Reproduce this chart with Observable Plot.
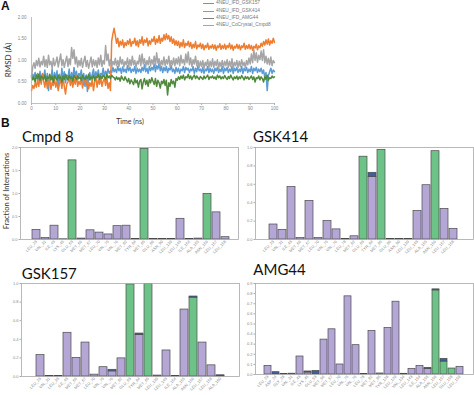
<!DOCTYPE html>
<html><head><meta charset="utf-8">
<script src="https://cdn.jsdelivr.net/npm/d3@7"></script>
<script src="https://cdn.jsdelivr.net/npm/@observablehq/plot@0.6"></script>
<style>
body{margin:0;background:#fff;}
#root{position:relative;width:474px;height:395px;overflow:hidden;background:#fff;}
.abs{position:absolute;white-space:nowrap;line-height:1;}
.panel{position:absolute;}
.lab{font-family:Lato,"Liberation Sans",sans-serif;color:#333;}
.rot{transform:translate(-50%,-50%) rotate(-90deg);}
.leg{font-family:"Liberation Sans",sans-serif;font-size:4.8px;color:#777;}
.sw{position:absolute;height:0;border-top:1.4px solid;}
</style></head><body><div id="root"></div>
<script>
// ---------- Panel A: RMSD time series (0.5 ns sampling) ----------
const timeStep = 0.5;
const seriesNames = ["4NEU_IFD_GSK157","4NEU_IFD_GSK414","4NEU_IFD_AMG44","4NEU_CoCrystal_Cmpd8"];
const legendColors = ["#5b9bd5","#ed7d31","#7f7f7f","#a5a5a5"];
const rmsdGSK157 = [
0.60,0.68,0.62,0.72,0.58,0.70,0.55,0.75,0.50,0.68,
0.60,0.78,0.45,0.70,0.30,0.65,0.55,0.80,0.48,0.72,
0.58,0.76,0.35,0.68,0.50,0.82,0.56,0.74,0.48,0.66,
0.60,0.80,0.52,0.72,0.58,0.84,0.62,0.75,0.55,0.70,
0.64,0.78,0.50,0.70,0.40,0.66,0.28,0.60,0.72,0.55,
0.68,0.80,0.58,0.74,0.62,0.78,0.55,0.70,0.66,0.82,
0.62,0.75,0.68,0.80,0.70,0.76,0.72,0.84,0.74,0.80,
0.72,0.86,0.76,0.82,0.70,0.85,0.74,0.80,0.72,0.88,
0.76,0.84,0.72,0.80,0.75,0.86,0.70,0.82,0.74,0.80,
0.72,0.84,0.76,0.90,0.74,0.82,0.70,0.86,0.76,0.84,
0.78,0.92,0.74,0.88,0.80,0.94,0.76,0.86,0.72,0.84,
0.76,0.86,0.72,0.82,0.78,0.88,0.74,0.80,0.70,0.84,
0.74,0.82,0.70,0.80,0.76,0.86,0.72,0.84,0.78,0.82,
0.72,0.80,0.76,0.86,0.70,0.82,0.74,0.88,0.76,0.80,
0.72,0.84,0.70,0.80,0.76,0.86,0.72,0.82,0.74,0.80,
0.70,0.82,0.76,0.84,0.72,0.80,0.74,0.86,0.70,0.82,
0.76,0.84,0.72,0.80,0.74,0.86,0.70,0.82,0.76,0.84,
0.72,0.80,0.74,0.86,0.70,0.82,0.76,0.84,0.72,0.80,
0.74,0.86,0.70,0.82,0.76,0.84,0.72,0.80,0.74,0.82,
0.70,0.78,0.60,0.72,0.30,0.65,0.74,0.82,0.70,0.78,
0.74];
const rmsdGSK414 = [
0.30,0.42,0.35,0.48,0.38,0.55,0.40,0.62,0.45,0.70,
0.52,0.38,0.60,0.35,0.48,0.58,0.33,0.50,0.42,0.56,
0.38,0.52,0.30,0.46,0.55,0.35,0.60,0.40,0.22,0.45,
0.50,0.62,0.42,0.55,0.38,0.58,0.45,0.65,0.40,0.52,
0.44,0.58,0.36,0.50,0.60,0.42,0.55,0.34,0.48,0.40,
0.56,0.30,0.50,0.62,0.38,0.55,0.45,0.60,0.40,0.52,
0.58,0.42,0.62,0.35,0.48,0.30,1.45,1.62,1.75,1.58,
1.40,1.52,1.32,1.45,1.36,1.48,1.30,1.42,1.35,1.46,
1.38,1.50,1.33,1.44,1.40,1.52,1.35,1.46,1.32,1.48,
1.40,1.55,1.36,1.48,1.42,1.52,1.34,1.46,1.38,1.50,
1.44,1.56,1.38,1.50,1.42,1.58,1.40,1.52,1.45,1.60,
1.48,1.62,1.50,1.58,1.44,1.55,1.40,1.50,1.36,1.46,
1.35,1.45,1.30,1.42,1.33,1.48,1.30,1.40,1.35,1.45,
1.32,1.42,1.28,1.38,1.30,1.44,1.27,1.36,1.32,1.40,
1.28,1.38,1.25,1.35,1.30,1.40,1.26,1.34,1.29,1.37,
1.27,1.36,1.24,1.34,1.30,1.39,1.26,1.35,1.28,1.38,
1.26,1.35,1.30,1.40,1.27,1.36,1.24,1.33,1.29,1.38,
1.28,1.36,1.25,1.34,1.30,1.40,1.26,1.35,1.28,1.37,
1.27,1.35,1.24,1.33,1.29,1.38,1.25,1.34,1.30,1.40,
1.33,1.44,1.36,1.48,1.38,1.50,1.36,1.46,1.40,1.52,
1.42];
const rmsdAMG44 = [
0.65,0.55,0.62,0.50,0.66,0.58,0.68,0.54,0.64,0.60,
0.56,0.66,0.52,0.62,0.58,0.68,0.55,0.63,0.50,0.65,
0.60,0.54,0.66,0.58,0.62,0.50,0.64,0.56,0.68,0.60,
0.55,0.65,0.58,0.62,0.52,0.66,0.60,0.56,0.64,0.58,
0.62,0.54,0.66,0.60,0.56,0.64,0.58,0.68,0.55,0.62,
0.58,0.66,0.54,0.62,0.60,0.68,0.56,0.64,0.58,0.66,
0.62,0.56,0.68,0.60,0.64,0.58,0.66,0.62,0.60,0.55,
0.62,0.56,0.60,0.52,0.64,0.58,0.54,0.62,0.56,0.50,
0.58,0.46,0.55,0.50,0.44,0.58,0.48,0.54,0.38,0.52,
0.56,0.34,0.50,0.58,0.44,0.54,0.40,0.56,0.48,0.60,
0.52,0.44,0.58,0.40,0.54,0.48,0.36,0.52,0.46,0.56,
0.42,0.54,0.20,0.48,0.40,0.56,0.46,0.52,0.38,0.58,
0.54,0.62,0.56,0.64,0.58,0.66,0.55,0.62,0.60,0.68,
0.58,0.64,0.56,0.62,0.66,0.58,0.64,0.60,0.56,0.63,
0.60,0.56,0.64,0.58,0.62,0.66,0.56,0.62,0.60,0.64,
0.58,0.62,0.56,0.66,0.60,0.64,0.57,0.62,0.58,0.65,
0.60,0.56,0.63,0.58,0.66,0.60,0.55,0.62,0.58,0.64,
0.56,0.62,0.58,0.65,0.60,0.55,0.63,0.58,0.62,0.56,
0.60,0.64,0.56,0.62,0.50,0.60,0.58,0.64,0.55,0.62,
0.58,0.50,0.62,0.56,0.66,0.54,0.60,0.58,0.64,0.60,
0.62];
const rmsdCmpd8 = [
0.62,0.85,0.95,0.82,1.00,0.88,1.05,0.85,0.98,0.90,
1.10,0.86,1.02,0.84,1.12,0.90,0.98,0.82,1.05,0.88,
0.96,1.08,0.85,1.00,1.15,0.88,1.02,0.84,0.98,1.10,
0.86,1.04,0.90,1.30,1.05,1.25,0.92,1.08,0.85,1.00,
0.88,1.05,0.84,0.98,1.10,0.86,1.00,0.82,0.95,1.08,
0.85,1.02,0.88,1.00,0.84,1.06,0.90,1.12,0.86,1.00,
0.92,1.35,1.00,1.15,0.88,1.02,0.86,0.98,0.90,1.05,
0.88,1.00,0.86,1.08,0.92,1.02,0.85,0.98,0.90,1.06,
0.86,1.02,0.88,1.10,0.90,1.00,0.84,0.98,0.92,1.12,
0.88,1.15,0.92,1.04,0.86,1.00,0.90,1.08,0.88,1.02,
0.92,1.10,0.88,1.18,0.94,1.04,0.86,1.00,0.90,1.08,
0.88,1.02,0.92,1.10,0.86,1.00,0.90,1.06,0.88,1.04,
0.92,1.08,0.88,1.12,0.94,1.02,0.90,1.15,0.95,1.20,
0.90,1.06,0.86,1.02,0.92,1.10,0.88,1.00,0.84,0.98,
0.86,1.00,0.82,0.96,0.88,1.02,0.84,0.98,0.86,1.04,
0.84,0.98,0.88,1.02,0.82,0.96,0.86,1.00,0.84,0.98,
0.88,1.02,0.84,0.98,0.86,1.04,0.82,0.96,0.88,1.00,
0.84,0.98,0.86,1.02,0.88,0.96,0.84,1.00,0.90,1.06,
0.92,1.15,0.95,1.25,1.00,1.18,0.96,1.12,1.02,1.22,
1.00,1.25,0.95,1.10,0.92,1.05,0.90,1.08,0.88,1.00,
0.95];
const rmsdTicksY = [0, 0.5, 1, 1.5, 2];
const rmsdTicksX = [0,10,20,30,40,50,60,70,80,90,100];

// drawing order and line colours as in the figure
const lineSeries = [
  {values: rmsdGSK157, color: "#5b9bd5"},
  {values: rmsdGSK414, color: "#ed7d31"},
  {values: rmsdAMG44,  color: "#4f8a3c"},
  {values: rmsdCmpd8,  color: "#a5a5a5"}
];

// ---------- Panel B: interaction fractions ----------
const types = ["H-bonds","Hydrophobic","Water bridges"];
const typeColors = ["#6dc387","#b4a7d6","#3f5f9f"];

const cmpd8Res = ["LEU_23","VAL_31","ILE_43","LYS_45","GLU_63","MET_66","MET_67","LEU_70","VAL_75","VAL_76","MET_82","TYR_84","MET_85","GLU_86","ASN_90","LEU_139","LEU_143","ILE_154","ALA_155","ASN_156","LEU_157","LEU_158"];
const cmpd8HB  = [0,0,0,0,1.72,0,0,0,0,0,0,0,1.97,0,0,0,0,0,0,0.99,0,0];
const cmpd8HY  = [0.21,0.03,0.30,0.005,0,0.02,0.20,0.15,0.11,0.29,0.30,0.01,0,0.01,0.01,0.01,0.45,0.01,0.02,0,0.59,0.05];
const cmpd8WB  = [0,0,0,0,0,0,0,0,0,0,0,0,0,0,0,0,0,0,0,0,0,0];

const gsk414Res = ["LEU_23","VAL_31","ILE_43","MET_66","MET_67","LEU_70","VAL_75","VAL_76","LEU_78","MET_82","GLU_83","TYR_84","MET_85","GLU_86","ASN_90","LEU_139","LEU_143","ALA_155","ASN_156","LEU_157","LEU_158"];
const gsk414HB = [0,0,0,0,0,0,0,0,0,0,0.90,0,0.975,0,0,0,0,0,0.96,0,0];
const gsk414HY = [0.163,0.105,0.57,0.015,0.42,0.015,0.20,0.11,0.005,0.035,0,0.68,0,0.005,0.005,0.005,0.31,0.59,0,0.333,0.116];
const gsk414WB = [0,0,0,0,0,0,0,0,0,0,0,0.045,0,0,0,0,0,0,0,0,0];

const gsk157Res = ["LEU_23","VAL_31","LEU_33","ILE_43","MET_66","MET_67","LEU_70","VAL_75","VAL_76","MET_82","GLU_83","TYR_84","MET_85","LEU_139","LEU_143","ILE_154","ALA_155","ASN_156","LEU_157","LEU_158","ALA_160"];
const gsk157HB = [0,0,0,0,0,0,0,0,0,0,0.99,0,0.995,0,0,0,0,0.848,0,0,0];
const gsk157HY = [0.23,0.005,0.005,0.47,0.20,0.365,0.02,0.10,0.055,0.195,0,0.445,0,0.01,0.28,0.005,0.72,0,0.365,0.12,0.005];
const gsk157WB = [0,0,0,0,0,0,0,0,0.017,0,0,0.017,0,0,0,0,0,0.012,0,0,0.008];

const amg44Res = ["LEU_23","ASP_24","GLY_28","VAL_31","ILE_43","LYS_45","GLU_63","MET_66","MET_67","LEU_70","VAL_75","VAL_76","LEU_78","MET_82","MET_85","TYR_128","LEU_129","VAL_134","LEU_143","ILE_154","ALA_155","ASN_156","LEU_157","GLU_158","LEU_159"];
const amg44HB = [0,0,0,0,0,0,0,0,0,0,0,0,0,0,0,0,0,0,0,0,0,0.832,0.128,0.059,0];
const amg44HY = [0.085,0,0.004,0.008,0.178,0.02,0,0.345,0.447,0.099,0.773,0.29,0.004,0.43,0.01,0.46,0.72,0.007,0.056,0.085,0.056,0,0,0,0.076];
const amg44WB = [0,0.023,0,0,0,0.01,0.036,0,0,0,0,0,0,0,0,0,0,0,0,0,0.01,0.01,0.027,0,0];

const root = document.getElementById("root");
function place(node, left, top, w) {
  const d = document.createElement("div");
  d.className = "panel";
  d.style.left = left + "px"; d.style.top = top + "px"; d.style.width = w + "px";
  d.appendChild(node); root.appendChild(d);
}
function label(text, left, top, css, cls) {
  const d = document.createElement("div");
  d.className = "abs " + (cls || "lab");
  d.textContent = text;
  d.style.left = left + "px"; d.style.top = top + "px";
  Object.assign(d.style, css || {});
  root.appendChild(d);
  return d;
}

// Panel A chart
const lineRows = [];
lineSeries.forEach((s, k) => s.values.forEach((v, i) => lineRows.push({t: i * timeStep, v, k})));
const rmsdPlot = Plot.plot({
  width: 280, height: 112,
  marginLeft: 31, marginRight: 6, marginTop: 17, marginBottom: 9,
  style: {background: "transparent", fontFamily: "Liberation Sans, sans-serif", fontSize: "4.5px", color: "#888"},
  x: {domain: [0, 100]},
  y: {domain: [0, 2]},
  marks: [
    ...lineSeries.map((s, k) => Plot.line(lineRows.filter(r => r.k === k), {x: "t", y: "v", stroke: s.color, strokeWidth: 1.5})),
    Plot.ruleY([0], {stroke: "#b0b0b0", strokeWidth: 0.8}),
    Plot.ruleX([0], {stroke: "#b0b0b0", strokeWidth: 0.8}),
    Plot.axisY({ticks: rmsdTicksY, tickFormat: d3.format(".2f"), tickSize: 0, tickPadding: 5, label: null}),
    Plot.axisX({ticks: rmsdTicksX, tickSize: 2, tickPadding: 1, label: null, stroke: "#b0b0b0"})
  ]
});
place(rmsdPlot, 0, 0, 280);

// legend
seriesNames.forEach((name, i) => {
  const y = 4 + i * 7.3;
  const sw = document.createElement("div");
  sw.className = "sw";
  sw.style.left = "203px"; sw.style.top = (y - 0.7) + "px"; sw.style.width = "11px";
  sw.style.borderTopColor = legendColors[i];
  root.appendChild(sw);
  label(name, 216, y - 2.6, {}, "leg");
});

// Bar charts
function barChart(o) {
  const rows = [];
  o.res.forEach((r, i) => {
    [o.hb[i], o.hy[i], o.wb[i]].forEach((v, j) => { if (v > 0) rows.push({res: r, type: types[j], v}); });
  });
  return Plot.plot({
    width: o.width, height: o.height,
    marginTop: o.mt, marginBottom: o.mb, marginLeft: o.ml, marginRight: o.mr,
    style: {background: "transparent", fontFamily: "Liberation Sans, sans-serif", fontSize: "4px", color: "#888"},
    x: {domain: o.res, paddingInner: 0.16, paddingOuter: 0, insetLeft: o.il, insetRight: o.ir},
    y: {domain: [0, o.ymax]},
    color: {domain: types, range: typeColors},
    marks: [
      Plot.barY(rows, {x: "res", y: "v", fill: "type", stroke: "#4a4a4a", strokeWidth: 0.7}),
      Plot.frame({stroke: "#a8a8a8", strokeWidth: 0.8}),
      Plot.axisY({ticks: o.yticks, tickFormat: d3.format(".1f"), tickSize: 1.5, tickPadding: 1.5, label: null, stroke: "#a8a8a8"}),
      Plot.axisX({tickRotate: -45, tickSize: 0, tickPadding: 1.5, label: null})
    ]
  });
}

place(barChart({res: cmpd8Res, hb: cmpd8HB, hy: cmpd8HY, wb: cmpd8WB, ymax: 2, yticks: [0,0.5,1,1.5,2],
  width: 240, height: 116, mt: 7, mb: 17, ml: 20, mr: 2, il: 5.4, ir: 2.8}), 0, 140, 240);
place(barChart({res: gsk414Res, hb: gsk414HB, hy: gsk414HY, wb: gsk414WB, ymax: 1, yticks: [0,0.2,0.4,0.6,0.8,1],
  width: 234, height: 116, mt: 7, mb: 17, ml: 15, mr: 1, il: 3.6, ir: 6.6}), 240, 140, 234);
place(barChart({res: gsk157Res, hb: gsk157HB, hy: gsk157HY, wb: gsk157WB, ymax: 1, yticks: [0,0.2,0.4,0.6,0.8,1],
  width: 240, height: 119, mt: 7, mb: 19, ml: 21, mr: 1, il: 5.9, ir: 5.6}), 0, 276, 240);
place(barChart({res: amg44Res, hb: amg44HB, hy: amg44HY, wb: amg44WB, ymax: 0.9, yticks: [0,0.1,0.2,0.3,0.4,0.5,0.6,0.7,0.8,0.9],
  width: 234, height: 119, mt: 7, mb: 21, ml: 15, mr: 1, il: 3.2, ir: 5.2}), 240, 276, 234);

// texts
label("A", 1, -0.5, {fontFamily: "Liberation Sans, Arial, sans-serif", fontWeight: "bold", fontSize: "12px", color: "#111"});
label("B", 1, 116.5, {fontFamily: "Liberation Sans, Arial, sans-serif", fontWeight: "bold", fontSize: "12px", color: "#111"});
label("RMSD (Å)", 7.5, 60, {fontSize: "8px"}, "lab rot");
label("Time (ns)", 130, 120.5, {fontSize: "7px", transform: "translate(-50%,-50%)"});
label("Fraction of Interactions", 6.5, 190.5, {fontSize: "7.5px"}, "lab rot");
label("Cmpd 8", 22, 129.1, {fontSize: "15px", color: "#111"});
label("GSK414", 253, 129.1, {fontSize: "15px", color: "#111"});
label("GSK157", 21.7, 265.7, {fontSize: "15px", color: "#111"});
label("AMG44", 253.3, 262.4, {fontSize: "15px", color: "#111"});
</script></body></html>
